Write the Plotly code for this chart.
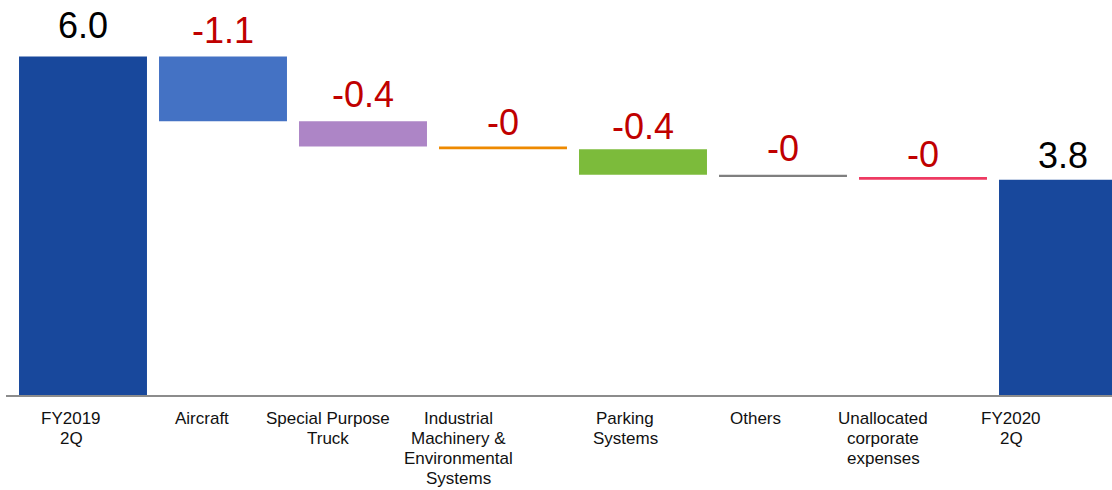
import plotly.graph_objects as go

# Operating income bridge (billions of yen)
categories = [
    "FY2019<br>2Q",
    "Aircraft",
    "Special Purpose<br>Truck",
    "Industrial<br>Machinery &<br>Environmental<br>Systems",
    "Parking<br>Systems",
    "Others",
    "Unallocated<br>corporate<br>expenses",
    "FY2020<br>2Q",
]
start_value = 6.0
changes = [-1.149, -0.449, -0.049, -0.449, -0.039, -0.049]

bar_colors = ["#18489C", "#4472C4", "#AD85C6", "#EE8A00", "#7CBB3B",
              "#7F7F7F", "#EE3A62", "#18489C"]
label_colors = ["#000000"] + ["#C00000"] * len(changes) + ["#000000"]
# pixel gap between value label and bar top
label_gap = [8, 3, 4, 2, 0, 4, 0, 2]
# horizontal offset of category captions from bar centre
caption_shift = [-12, -21.5, -35.5, -45, -18, -27.5, -40, -52]
CAPTION_LINE = 20  # px between caption lines

FONT = "Liberation Sans, Arial, sans-serif"

# Build floating bars: base and length for each step
bases, lengths, tops = [], [], []
bases.append(0.0)
lengths.append(start_value)
tops.append(start_value)
running = start_value
for d in changes:
    new = running + d
    bases.append(min(running, new))
    lengths.append(abs(d))
    tops.append(max(running, new))
    running = new
end_value = running
bases.append(0.0)
lengths.append(end_value)
tops.append(end_value)

values = [start_value] + changes + [end_value]


def fmt(v):
    s = f"{v:.1f}"
    if s == "-0.0":
        s = "-0"
    return s


x = list(range(len(categories)))

fig = go.Figure()
fig.add_trace(go.Bar(
    x=x,
    y=lengths,
    base=bases,
    width=0.914,
    marker=dict(color=bar_colors, line=dict(width=0)),
    hoverinfo="skip",
))

for i, v in enumerate(values):
    fig.add_annotation(
        x=i, y=tops[i], xref="x", yref="y",
        text=fmt(v), showarrow=False,
        yanchor="bottom", xanchor="center",
        yshift=label_gap[i],
        font=dict(family=FONT, size=36, color=label_colors[i]),
    )

# Category captions, one text per line for tight line spacing
for i, c in enumerate(categories):
    for k, line in enumerate(c.split("<br>")):
        fig.add_annotation(
            x=i, y=0, xref="x", yref="paper",
            text=line, showarrow=False,
            yanchor="top", xanchor="center", align="center",
            xshift=caption_shift[i], yshift=-13 - CAPTION_LINE * k,
            borderpad=0,
            font=dict(family=FONT, size=17, color="#111111"),
        )

fig.update_layout(
    width=1112, height=490,
    margin=dict(l=6, r=0, t=0, b=95),
    plot_bgcolor="white", paper_bgcolor="white",
    showlegend=False,
    xaxis=dict(
        range=[-0.55, 7.35], showticklabels=False, ticks="",
        showgrid=False, zeroline=False,
        showline=True, linecolor="#8C8C8C", linewidth=2,
    ),
    yaxis=dict(
        range=[0, 7.0], visible=False, showgrid=False, zeroline=False,
    ),
)

fig.write_html("out.html")
